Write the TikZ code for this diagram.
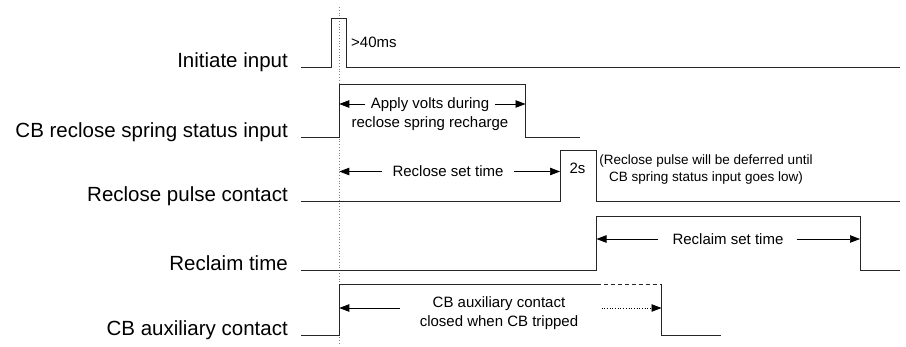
\documentclass[tikz,border=0pt]{standalone}
\usepackage{fontspec}
\setmainfont{Liberation Sans}
\usetikzlibrary{arrows.meta}
\begin{document}
\begin{tikzpicture}[x=1pt,y=-1pt,
  wave/.style={line width=0.9pt,black!85,line join=miter},
  sig/.style={font=\fontsize{20.5}{24}\selectfont,anchor=base east,inner sep=0pt},
  note/.style={font=\fontsize{15}{19}\selectfont,align=center,inner sep=0pt},
  smallnote/.style={font=\fontsize{13.5}{17}\selectfont,align=center,inner sep=0pt},
  dimarrow/.style={line width=0.7pt,-{Triangle[length=10pt,width=7.5pt]}},
  guide/.style={gray,dotted,line width=0.8pt}]
\useasboundingbox (0,0) rectangle (906,347);

% signal names
\node[sig] (l1) at (288,68)  {Initiate input};
\node[sig] (l2) at (288,138) {CB reclose spring status input};
\node[sig] (l3) at (288,202) {Reclose pulse contact};
\node[sig] (l4) at (288,270.5) {Reclaim time};
\node[sig] (l5) at (288,336) {CB auxiliary contact};

% time reference
\coordinate (t0a) at (339.3,7);
\coordinate (t0b) at (339.3,345);
\draw[guide] (t0a) -- (t0b);

% initiate input
\coordinate (i0) at (301,67.5);  \coordinate (i1) at (331.5,67.5);
\coordinate (i2) at (331.5,18);  \coordinate (i3) at (346.5,18);
\coordinate (i4) at (346.5,67.5);\coordinate (i5) at (900,67.5);
\draw[wave] (i0) -- (i1) -- (i2) -- (i3) -- (i4) -- (i5);
\node[note,anchor=west] (ms) at (351,42) {>40ms};

% CB reclose spring status input
\coordinate (s0) at (301,137.5);   \coordinate (s1) at (339.3,137.5);
\coordinate (s2) at (339.3,84.5);  \coordinate (s3) at (525.5,84.5);
\coordinate (s4) at (525.5,137.5); \coordinate (s5) at (580,137.5);
\draw[wave] (s0) -- (s1) -- (s2) -- (s3) -- (s4) -- (s5);
\node[note] (sn) at (430,114) {Apply volts during\\reclose spring recharge};
\coordinate (sa1) at (365,104); \coordinate (sa1e) at (339.3,104);
\coordinate (sa2) at (495,104); \coordinate (sa2e) at (525.5,104);
\draw[dimarrow] (sa1) -- (sa1e);
\draw[dimarrow] (sa2) -- (sa2e);

% reclose pulse contact
\coordinate (p0) at (301,201.5);   \coordinate (p1) at (560,201.5);
\coordinate (p2) at (560,150.5);   \coordinate (p3) at (596.5,150.5);
\coordinate (p4) at (596.5,201.5); \coordinate (p5) at (900,201.5);
\draw[wave] (p0) -- (p1) -- (p2) -- (p3) -- (p4) -- (p5);
\node[note] (pn) at (448,171.5) {Reclose set time};
\coordinate (pa1) at (381.5,171.5); \coordinate (pa1e) at (339.3,171.5);
\coordinate (pa2) at (514,171.5);   \coordinate (pa2e) at (560,171.5);
\draw[dimarrow] (pa1) -- (pa1e);
\draw[dimarrow] (pa2) -- (pa2e);
\node[note] (two) at (577.5,168.5) {2s};
\node[smallnote] (defer) at (706,169.5) {(Reclose pulse will be deferred until\\CB spring status input goes low)};

% reclaim time
\coordinate (r0) at (301,270);   \coordinate (r1) at (596.5,270);
\coordinate (r2) at (596.5,216.5); \coordinate (r3) at (860,216.5);
\coordinate (r4) at (860,270);   \coordinate (r5) at (900,270);
\draw[wave] (r0) -- (r1) -- (r2) -- (r3) -- (r4) -- (r5);
\node[note] (rn) at (728,239) {Reclaim set time};
\coordinate (ra1) at (658,239);   \coordinate (ra1e) at (596.5,239);
\coordinate (ra2) at (796.5,239); \coordinate (ra2e) at (860,239);
\draw[dimarrow] (ra1) -- (ra1e);
\draw[dimarrow] (ra2) -- (ra2e);

% CB auxiliary contact
\coordinate (a0) at (301,335.5);   \coordinate (a1) at (339.3,335.5);
\coordinate (a2) at (339.3,284.5); \coordinate (a3) at (596.5,284.5);
\coordinate (a4) at (661.5,284.5); \coordinate (a5) at (661.5,335.5);
\coordinate (a6) at (721,335.5);
\draw[wave] (a0) -- (a1) -- (a2) -- (a3);
\draw[wave,dash pattern=on 4pt off 3pt] (a3) -- (a4);
\draw[wave] (a4) -- (a5) -- (a6);
\node[note] (an) at (499,313.5) {CB auxiliary contact\\closed when CB tripped};
\coordinate (aa1) at (400,308);   \coordinate (aa1e) at (339.3,308);
\coordinate (aa2) at (601.5,308); \coordinate (aa2e) at (661.5,308);
\draw[dimarrow] (aa1) -- (aa1e);
\draw[dimarrow,dotted] (aa2) -- (aa2e);
\end{tikzpicture}
\end{document}
